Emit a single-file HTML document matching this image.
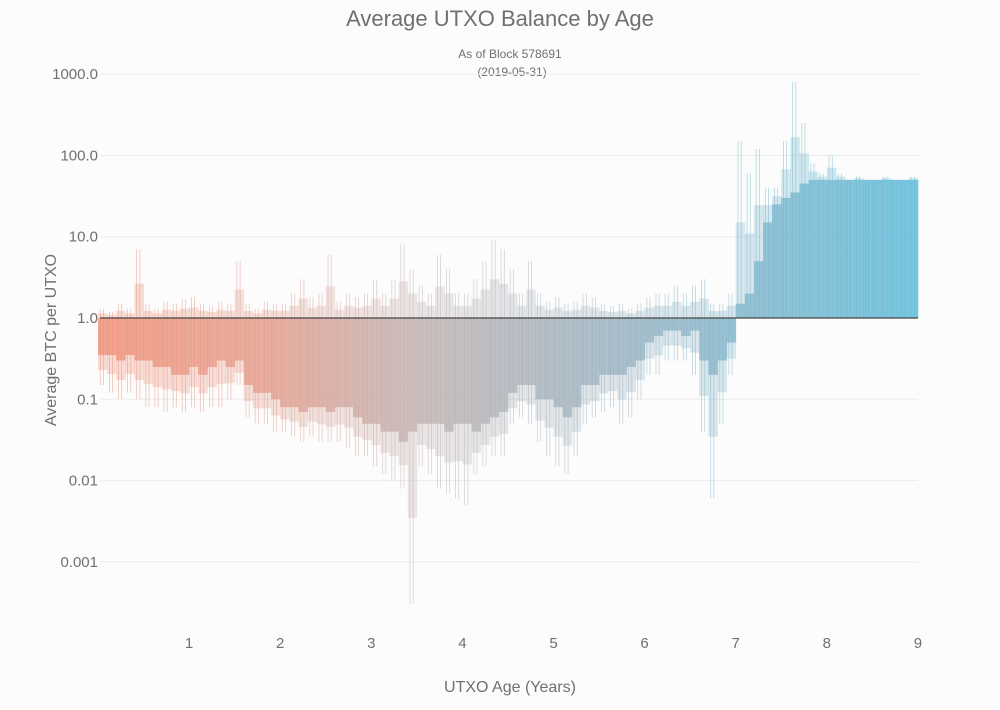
<!DOCTYPE html>
<html><head><meta charset="utf-8"><style>
html,body{margin:0;padding:0;background:#fcfcfc;}
svg{display:block;font-family:"Liberation Sans",sans-serif;}
</style></head><body>
<svg id="chart" width="1000" height="710">
<defs>
<linearGradient id="grad" gradientUnits="userSpaceOnUse" x1="98" y1="0" x2="918" y2="0">
<stop offset="0" stop-color="#ef8c72"/>
<stop offset="0.2" stop-color="#e39a88"/>
<stop offset="0.4" stop-color="#bdb0b0"/>
<stop offset="0.65" stop-color="#93b0c0"/>
<stop offset="1" stop-color="#58b9d8"/>
</linearGradient>
</defs>
<rect x="0" y="0" width="1000" height="710" fill="#fcfcfc"/>
<text x="500" y="26" text-anchor="middle" font-size="22" fill="#707070">Average UTXO Balance by Age</text>
<text x="510" y="58" text-anchor="middle" font-size="12" fill="#707070">As of Block 578691</text>
<text x="512" y="76" text-anchor="middle" font-size="12" fill="#707070">(2019-05-31)</text>
<g id="grid"></g>
<g id="bars"></g>
<g id="axes"></g>
<text x="510" y="692" text-anchor="middle" font-size="16" fill="#707070">UTXO Age (Years)</text>
<text transform="translate(56,340) rotate(-90)" text-anchor="middle" font-size="16" fill="#707070">Average BTC per UTXO</text>
</svg>
<script>
const yTicks = [1000, 100, 10, 1, 0.1, 0.01, 0.001];
const yTickLabels = ["1000.0", "100.0", "10.0", "1.0", "0.1", "0.01", "0.001"];
const xTicks = [1, 2, 3, 4, 5, 6, 7, 8, 9];
const binWidthYears = 0.1;
const fillVals = [0.35,0.35,0.3,0.35,0.3,0.3,0.25,0.25,0.2,0.2,
0.25,0.2,0.25,0.3,0.25,0.3,0.15,0.12,0.12,0.1,
0.08,0.08,0.07,0.08,0.08,0.07,0.08,0.08,0.06,0.05,
0.05,0.04,0.04,0.03,0.04,0.05,0.05,0.05,0.04,0.05,
0.05,0.04,0.05,0.06,0.07,0.12,0.15,0.15,0.1,0.1,
0.08,0.06,0.08,0.15,0.15,0.2,0.2,0.2,0.25,0.3,
0.5,0.6,0.7,0.7,0.6,0.7,0.3,0.2,0.3,0.5,
1.5,2,5,15,25,30,35,45,50,50,
50,50,50,50,50,50,50,50,50,50];
const spikeLo = [0.15,0.12,0.1,0.12,0.1,0.08,0.08,0.07,0.08,0.07,
0.08,0.07,0.08,0.08,0.1,0.15,0.06,0.05,0.05,0.04,
0.04,0.035,0.03,0.035,0.03,0.03,0.03,0.025,0.02,0.02,
0.015,0.012,0.01,0.008,0.0003,0.015,0.012,0.008,0.007,0.006,
0.005,0.012,0.015,0.02,0.02,0.05,0.06,0.05,0.03,0.02,
0.015,0.012,0.02,0.05,0.06,0.07,0.08,0.05,0.06,0.1,
0.2,0.2,0.3,0.3,0.3,0.2,0.04,0.006,0.05,0.2,
1,1,1,1,1,1,1,1,1,1,
1,1,1,1,1,1,1,1,1,1];
const spikeHi = [1.3,1.2,1.5,1.3,7,1.5,1.3,1.6,1.5,1.7,
1.8,1.5,1.4,1.6,1.5,5,1.5,1.3,1.6,1.5,
1.5,2,3,1.8,2,6,1.6,2,1.8,2,
3,2,3,8,4,2.5,2,6,4,2,
2,3,5,9,7,4,2,5,2,1.6,
1.8,1.5,1.6,2,1.8,1.5,1.4,1.5,1.3,1.5,
1.8,2,2,2.5,2,2.5,3,1.5,1.5,2,
150,60,120,40,40,150,800,250,80,60,
100,60,50,55,50,50,55,50,50,55];

const NS = "http://www.w3.org/2000/svg";
const X0 = 98, PXY = 91.1;
function xScale(yr){ return X0 + yr * PXY; }
function yScale(v){ return 318 - Math.log10(v) * 81.3; }
function mk(tag, attrs, parent){
  const el = document.createElementNS(NS, tag);
  for (const k in attrs) el.setAttribute(k, attrs[k]);
  parent.appendChild(el);
  return el;
}
const grid = document.getElementById('grid');
const bars = document.getElementById('bars');
const axes = document.getElementById('axes');

yTicks.forEach((t, i) => {
  const y = yScale(t);
  const g = mk('line', {x1: 100, x2: 918, y1: y, y2: y, stroke: '#ececec', 'stroke-width': 1}, grid);
  
  
  const l = mk('text', {x: 98, y: y + 5, 'text-anchor': 'end', 'font-size': 15, fill: '#707070'}, axes);
  l.textContent = yTickLabels[i];
  
  
});
xTicks.forEach(t => {
  const l = mk('text', {x: xScale(t), y: 648, 'text-anchor': 'middle', 'font-size': 15, fill: '#707070'}, axes);
  l.textContent = String(t);
  
  
});

const bw = binWidthYears * PXY;
const yBase = yScale(1);
fillVals.forEach((v, i) => {
  const x = xScale(i * binWidthYears);
  const lo = Math.min(spikeLo[i], v, 1), hi = Math.max(spikeHi[i], v, 1);
  // soft transition band between fill and extremes
  const midLo = Math.sqrt(Math.min(v, 1) * lo), midHi = Math.sqrt(Math.max(v, 1) * hi);
  const sb = mk('rect', {x: x, y: yScale(midHi), width: bw + 0.4, height: Math.max(0, yScale(midLo) - yScale(midHi)), fill: 'url(#grad)', opacity: 0.3}, bars);
  
  
  // thin extreme spikes
  [0.25, 0.6].forEach(f => {
    const sl = mk('line', {x1: x + bw * f, x2: x + bw * f, y1: yScale(hi), y2: yScale(lo), stroke: 'url(#grad)', 'stroke-width': 0.8, opacity: 0.55}, bars);
    
    
  });
  const yv = yScale(v);
  const r = mk('rect', {x: x, y: Math.min(yv, yBase), width: bw + 0.4, height: Math.abs(yv - yBase), fill: 'url(#grad)', opacity: 0.72}, bars);
  
  
});
const base = mk('line', {x1: 100, x2: 918, y1: yBase, y2: yBase, stroke: '#444', 'stroke-width': 1.2}, axes);


</script>
</body></html>
